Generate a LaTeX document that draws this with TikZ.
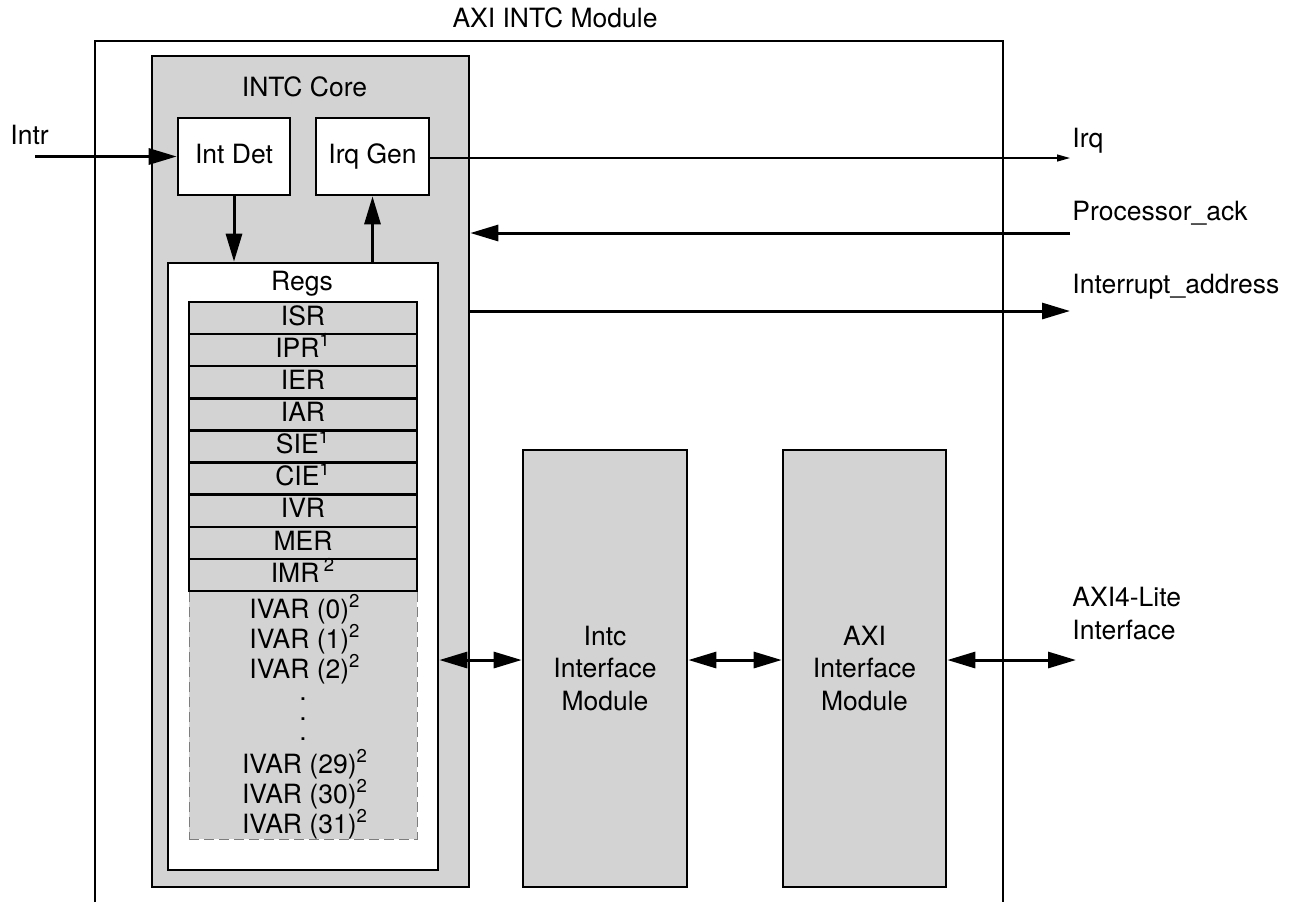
\documentclass[tikz,border=0pt]{standalone}
\usepackage{fontspec}
\setmainfont{TeX Gyre Heros}
\usetikzlibrary{arrows.meta}
\definecolor{boxgray}{RGB}{211,211,211}
\definecolor{dashgray}{RGB}{125,125,125}
\begin{document}
\begin{tikzpicture}[x=0.5pt,y=-0.5pt,
  font=\fontsize{13.25}{16.25}\selectfont,
  box/.style={draw,line width=1.3pt,inner sep=0pt,align=center},
  graybox/.style={box,fill=boxgray},
  whitebox/.style={box,fill=white},
  capbox/.style={text height=.72em,text depth=0pt},
  regrow/.style={draw,line width=1.2pt,fill=boxgray,minimum width=114pt,
    minimum height=16.055pt,inner sep=0pt,text height=.72em,text depth=0pt},
  lbl/.style={inner sep=0pt},
  sig/.style={line width=1.5pt,-{Triangle[length=14pt,width=8pt]}},
  bisig/.style={line width=1.5pt,{Triangle[length=14pt,width=8pt]}-{Triangle[length=14pt,width=8pt]}},
  thinsig/.style={line width=0.6pt,-{Triangle[length=6.5pt,width=3.5pt]}}
]
\useasboundingbox (0,0) rectangle (1293,902);

% outer module frame (open at bottom)
\draw[line width=1.1pt] (95,902) -- (95,41) -- (1003,41) -- (1003,902);
\node[lbl,anchor=base] (modlbl) at (555,27) {AXI INTC Module};

% INTC core
\node[graybox,minimum width=158.5pt,minimum height=415.5pt] (core) at (310.5,471.5) {};
\node[lbl,anchor=base] (corelbl) at (304.5,96) {INTC Core};

\node[whitebox,capbox,minimum width=56pt,minimum height=38.5pt] (intdet) at (234,156.5) {Int Det};
\node[whitebox,capbox,minimum width=56.5pt,minimum height=38.5pt] (irqgen) at (372.5,156.5) {Irq Gen};

\node[whitebox,minimum width=135pt,minimum height=303.5pt] (regs) at (303,566.5) {};
\node[lbl,anchor=base] (regslbl) at (302,290) {Regs};

% IVAR area
\node[fill=boxgray,draw=dashgray,line width=0.5pt,dash pattern=on 5pt off 2.5pt,
  minimum width=114pt,minimum height=124pt,inner sep=0pt] (ivar) at (303,715) {};

% register rows
\foreach \t [count=\i] in {{ISR},{IPR\textsuperscript{1}},{IER},{IAR},{SIE\textsuperscript{1}},
  {CIE\textsuperscript{1}},{IVR},{MER},{IMR\,\textsuperscript{2}}}
  \node[regrow] (r\i) at (303,{302+(\i-0.5)*32.11}) {\t};

% IVAR lines
\node[lbl,anchor=base] (iv0) at (305,618) {IVAR (0)\textsuperscript{2}};
\node[lbl,anchor=base] (iv1) at (305,648) {IVAR (1)\textsuperscript{2}};
\node[lbl,anchor=base] (iv2) at (305,678) {IVAR (2)\textsuperscript{2}};
\node[lbl,anchor=south,align=center,font=\fontsize{13.25}{10}\selectfont] (dots) at (303,741) {.\\.\\.};
\node[lbl,anchor=base] (iv29) at (305,773) {IVAR (29)\textsuperscript{2}};
\node[lbl,anchor=base] (iv30) at (305,803) {IVAR (30)\textsuperscript{2}};
\node[lbl,anchor=base] (iv31) at (305,833) {IVAR (31)\textsuperscript{2}};

% interface modules
\node[graybox,minimum width=82pt,minimum height=218.5pt] (intc) at (605,668.5) {Intc\\Interface\\Module};
\node[graybox,minimum width=81.5pt,minimum height=218.5pt] (axi) at (864.5,668.5) {AXI\\Interface\\Module};

% external signal labels
\node[lbl,anchor=base west] (intrlbl) at (10,144) {Intr};
\node[lbl,anchor=base west] (irqlbl) at (1072,147) {Irq};
\node[lbl,anchor=base west] (acklbl) at (1072,220) {Processor\_ack};
\node[lbl,anchor=base west] (addrlbl) at (1072,293) {Interrupt\_address};
\node[lbl,anchor=north west,align=left] (axilbl) at (1072,587) {AXI4-Lite\\Interface};

% free ends
\coordinate (intrin) at (35,156.5);
\coordinate (irqend) at (1070,158);
\coordinate (ackend) at (1070,233);
\coordinate (addrend) at (1070,311);
\coordinate (busy) at (700,660);
\coordinate (axiend) at (1076,660);

% connectors
\draw[sig] (intrin) -- (intdet.west);
\draw[sig] (intdet.south) -- (intdet.south |- regs.north);
\draw[sig] (irqgen.south |- regs.north) -- (irqgen.south);
\draw[thinsig] (irqgen.east |- irqend) -- (irqend);
\draw[sig] (ackend) -- (core.east |- ackend);
\draw[sig] (core.east |- addrend) -- (addrend);
\draw[bisig] (regs.east |- busy) -- (intc.west |- busy);
\draw[bisig] (intc.east |- busy) -- (axi.west |- busy);
\draw[bisig] (axi.east |- busy) -- (axiend);
\end{tikzpicture}
\end{document}
